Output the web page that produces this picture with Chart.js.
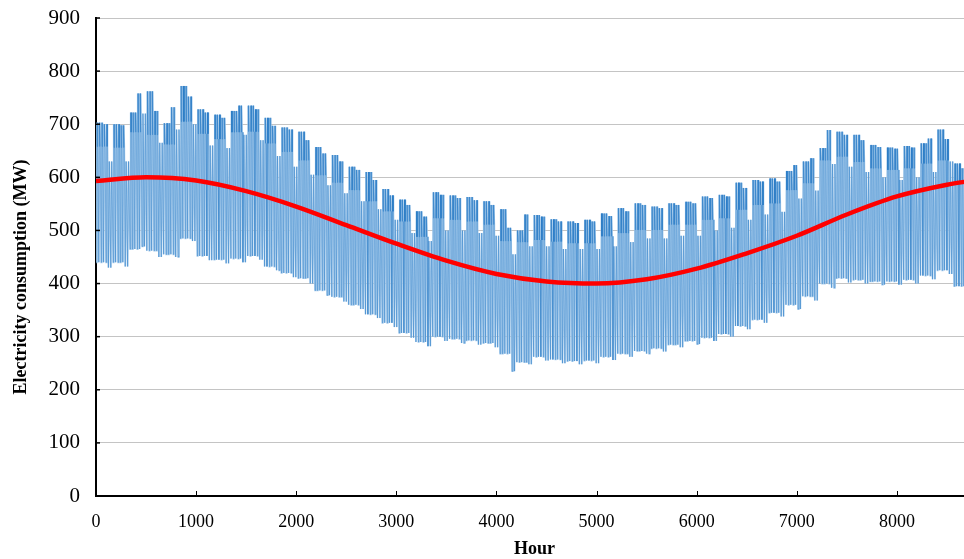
<!DOCTYPE html>
<html>
<head>
<meta charset="utf-8">
<script src="https://cdn.jsdelivr.net/npm/chart.js@4.4.1/dist/chart.umd.min.js"></script>
<style>
  html, body { margin: 0; padding: 0; background: #fff; overflow: hidden; }
  #wrap { width: 980px; height: 559px; }
</style>
</head>
<body>
<div id="wrap"><canvas id="c" width="980" height="559"></canvas></div>
<script>
// ---- Data (one entry per week, week 0 starts at hour 0) ----
// weekday peak, days Mon-Wed (MW)
const weekPeakEarly = [703,700,722,762,702,772,728,718,725,735,712,694,686,657,642,620,610,578,558,536,572,566,563,555,540,500,529,521,517,520,532,542,551,545,551,554,564,567,590,595,598,612,630,655,686,680,661,656,659,664,690,626,640];
// weekday peak, days Thu-Fri (MW)
const weekPeakLate  = [700,698,758,725,732,752,722,712,735,728,697,690,670,645,630,614,595,566,548,526,567,561,557,548,505,530,526,517,514,517,527,536,548,542,548,551,561,564,580,592,592,623,636,689,680,670,657,654,656,673,672,617,640];
// lower edge of the weekday daytime band (MW)
const weekDayDip    = [658,656,685,680,662,705,682,672,685,686,664,648,632,604,590,576,555,536,517,488,523,520,517,511,480,478,482,479,476,476,489,495,501,501,511,511,520,523,539,548,551,576,589,632,639,629,617,614,617,626,632,592,600];
// weekend daytime peak (MW)
const weekendPeak   = [630,630,720,665,690,700,660,655,680,670,640,620,605,585,570,555,540,520,495,480,500,500,495,490,455,470,470,465,465,465,470,478,485,485,490,490,500,505,520,530,535,560,575,625,620,610,600,595,600,610,630,575,580];
// weekday night minimum (MW)
const weekdayTrough = [440,440,465,462,455,485,452,445,447,452,432,420,410,387,375,360,342,326,307,290,300,296,293,288,268,252,262,257,254,255,262,268,273,278,285,292,298,305,320,332,345,360,376,400,410,407,404,404,407,415,425,395,395];
// weekend night minimum (MW)
const weekendTrough = [430,432,470,450,450,480,444,438,440,445,425,412,400,378,366,352,335,318,298,282,292,288,285,280,235,248,255,250,248,250,256,262,268,272,280,286,292,300,314,326,338,352,368,392,402,400,398,398,400,408,418,388,390];
// red curve (MW) read at these hours
const trendHours  = [0,500,1000,1500,2000,2500,3000,3500,4000,4500,5000,5500,6000,6500,7000,7500,8000,8500,8760];
const trendValues = [593,600,594,574,545,510,475,443,418,404,400,408,428,457,490,530,564,586,594];
// axis ticks
const xTickValues = [0,1000,2000,3000,4000,5000,6000,7000,8000];
const yTickStep = 100;
const xMax = 8760, yMax = 900;
const yTitle = 'Electricity consumption (MW)';

// ---- build hourly points from the weekly readings ----
const hourly = [];
for (let d = 0; d < 365; d++) {
  const w = Math.floor(d / 7), dow = d % 7, H = d * 24;
  if (dow < 5) {
    const pk = dow < 3 ? weekPeakEarly[w] : weekPeakLate[w];
    hourly.push({x: H + 4, y: weekdayTrough[w]});
    hourly.push({x: H + 9, y: pk});
    hourly.push({x: H + 12, y: weekDayDip[w]});
    hourly.push({x: H + 15, y: pk});
    hourly.push({x: H + 19, y: weekDayDip[w]});
  } else {
    hourly.push({x: H + 4, y: weekendTrough[w]});
    hourly.push({x: H + 13, y: weekendPeak[w]});
  }
}
const trend = trendHours.map((h, i) => ({x: h, y: trendValues[i]}));

const decorations = {
  id: 'decorations',
  afterDraw(chart) {
    const {ctx, scales: {x, y}} = chart;
    ctx.save();
    ctx.strokeStyle = '#000';
    ctx.lineWidth = 1;
    x.ticks.forEach(t => {
      if (t.value === 0) return;
      const px = Math.round(x.getPixelForValue(t.value)) + 0.5;
      ctx.beginPath(); ctx.moveTo(px, y.bottom); ctx.lineTo(px, y.bottom - 5); ctx.stroke();
    });
    ctx.lineWidth = 1.5;
    y.ticks.forEach(t => {
      if (t.value === 0) return;
      const py = y.getPixelForValue(t.value);
      ctx.beginPath(); ctx.moveTo(x.left, py); ctx.lineTo(x.left + 4, py); ctx.stroke();
    });
    // y axis title
    ctx.fillStyle = '#000';
    ctx.font = 'bold 18px "Liberation Serif"';
    ctx.textAlign = 'center';
    ctx.textBaseline = 'middle';
    ctx.translate(21, 277);
    ctx.rotate(-Math.PI / 2);
    ctx.fillText(yTitle, 0, 0);
    ctx.restore();
  }
};

new Chart(document.getElementById('c'), {
  type: 'line',
  data: {
    datasets: [
      { data: trend, borderColor: '#ff0000', borderWidth: 4.5, pointRadius: 0, cubicInterpolationMode: 'monotone', order: 0 },
      { data: hourly, borderColor: '#1f74c2', borderWidth: 0.4, pointRadius: 0, tension: 0, order: 1 },
      { data: hourly, borderColor: '#aed0ee', borderWidth: 1.7, pointRadius: 0, tension: 0, order: 2 }
    ]
  },
  options: {
    responsive: false,
    animation: false,
    devicePixelRatio: 1,
    layout: { padding: { top: 18, right: 7, left: 0, bottom: 0 } },
    plugins: { legend: { display: false }, tooltip: { enabled: false } },
    scales: {
      x: {
        type: 'linear', min: 0, max: xMax,
        afterBuildTicks: s => { s.ticks = xTickValues.map(v => ({ value: v })); },
        afterFit: s => { s.height = 63; s.paddingLeft = 0; s.paddingRight = 0; },
        ticks: { padding: 15, maxRotation: 0, autoSkip: false, color: '#000',
                 callback: v => String(v),
                 font: { family: 'Liberation Serif', size: 18 } },
        grid: { display: true, drawOnChartArea: false, drawTicks: false },
        border: { color: '#000', width: 2 },
        title: { display: true, text: 'Hour', color: '#000', padding: { top: 0, bottom: -1 },
                 font: { family: 'Liberation Serif', size: 18, weight: 'bold' } }
      },
      y: {
        min: 0, max: yMax,
        afterFit: s => { s.width = 96; s.paddingTop = 0; s.paddingBottom = 0; },
        ticks: { stepSize: yTickStep, padding: 16, color: '#000', font: { family: 'Liberation Serif', size: 21 } },
        grid: { color: '#c4c4c4', lineWidth: 1, drawTicks: false },
        border: { color: '#000', width: 2 },
        title: { display: false }
      }
    }
  },
  plugins: [decorations]
});
</script>
</body>
</html>
